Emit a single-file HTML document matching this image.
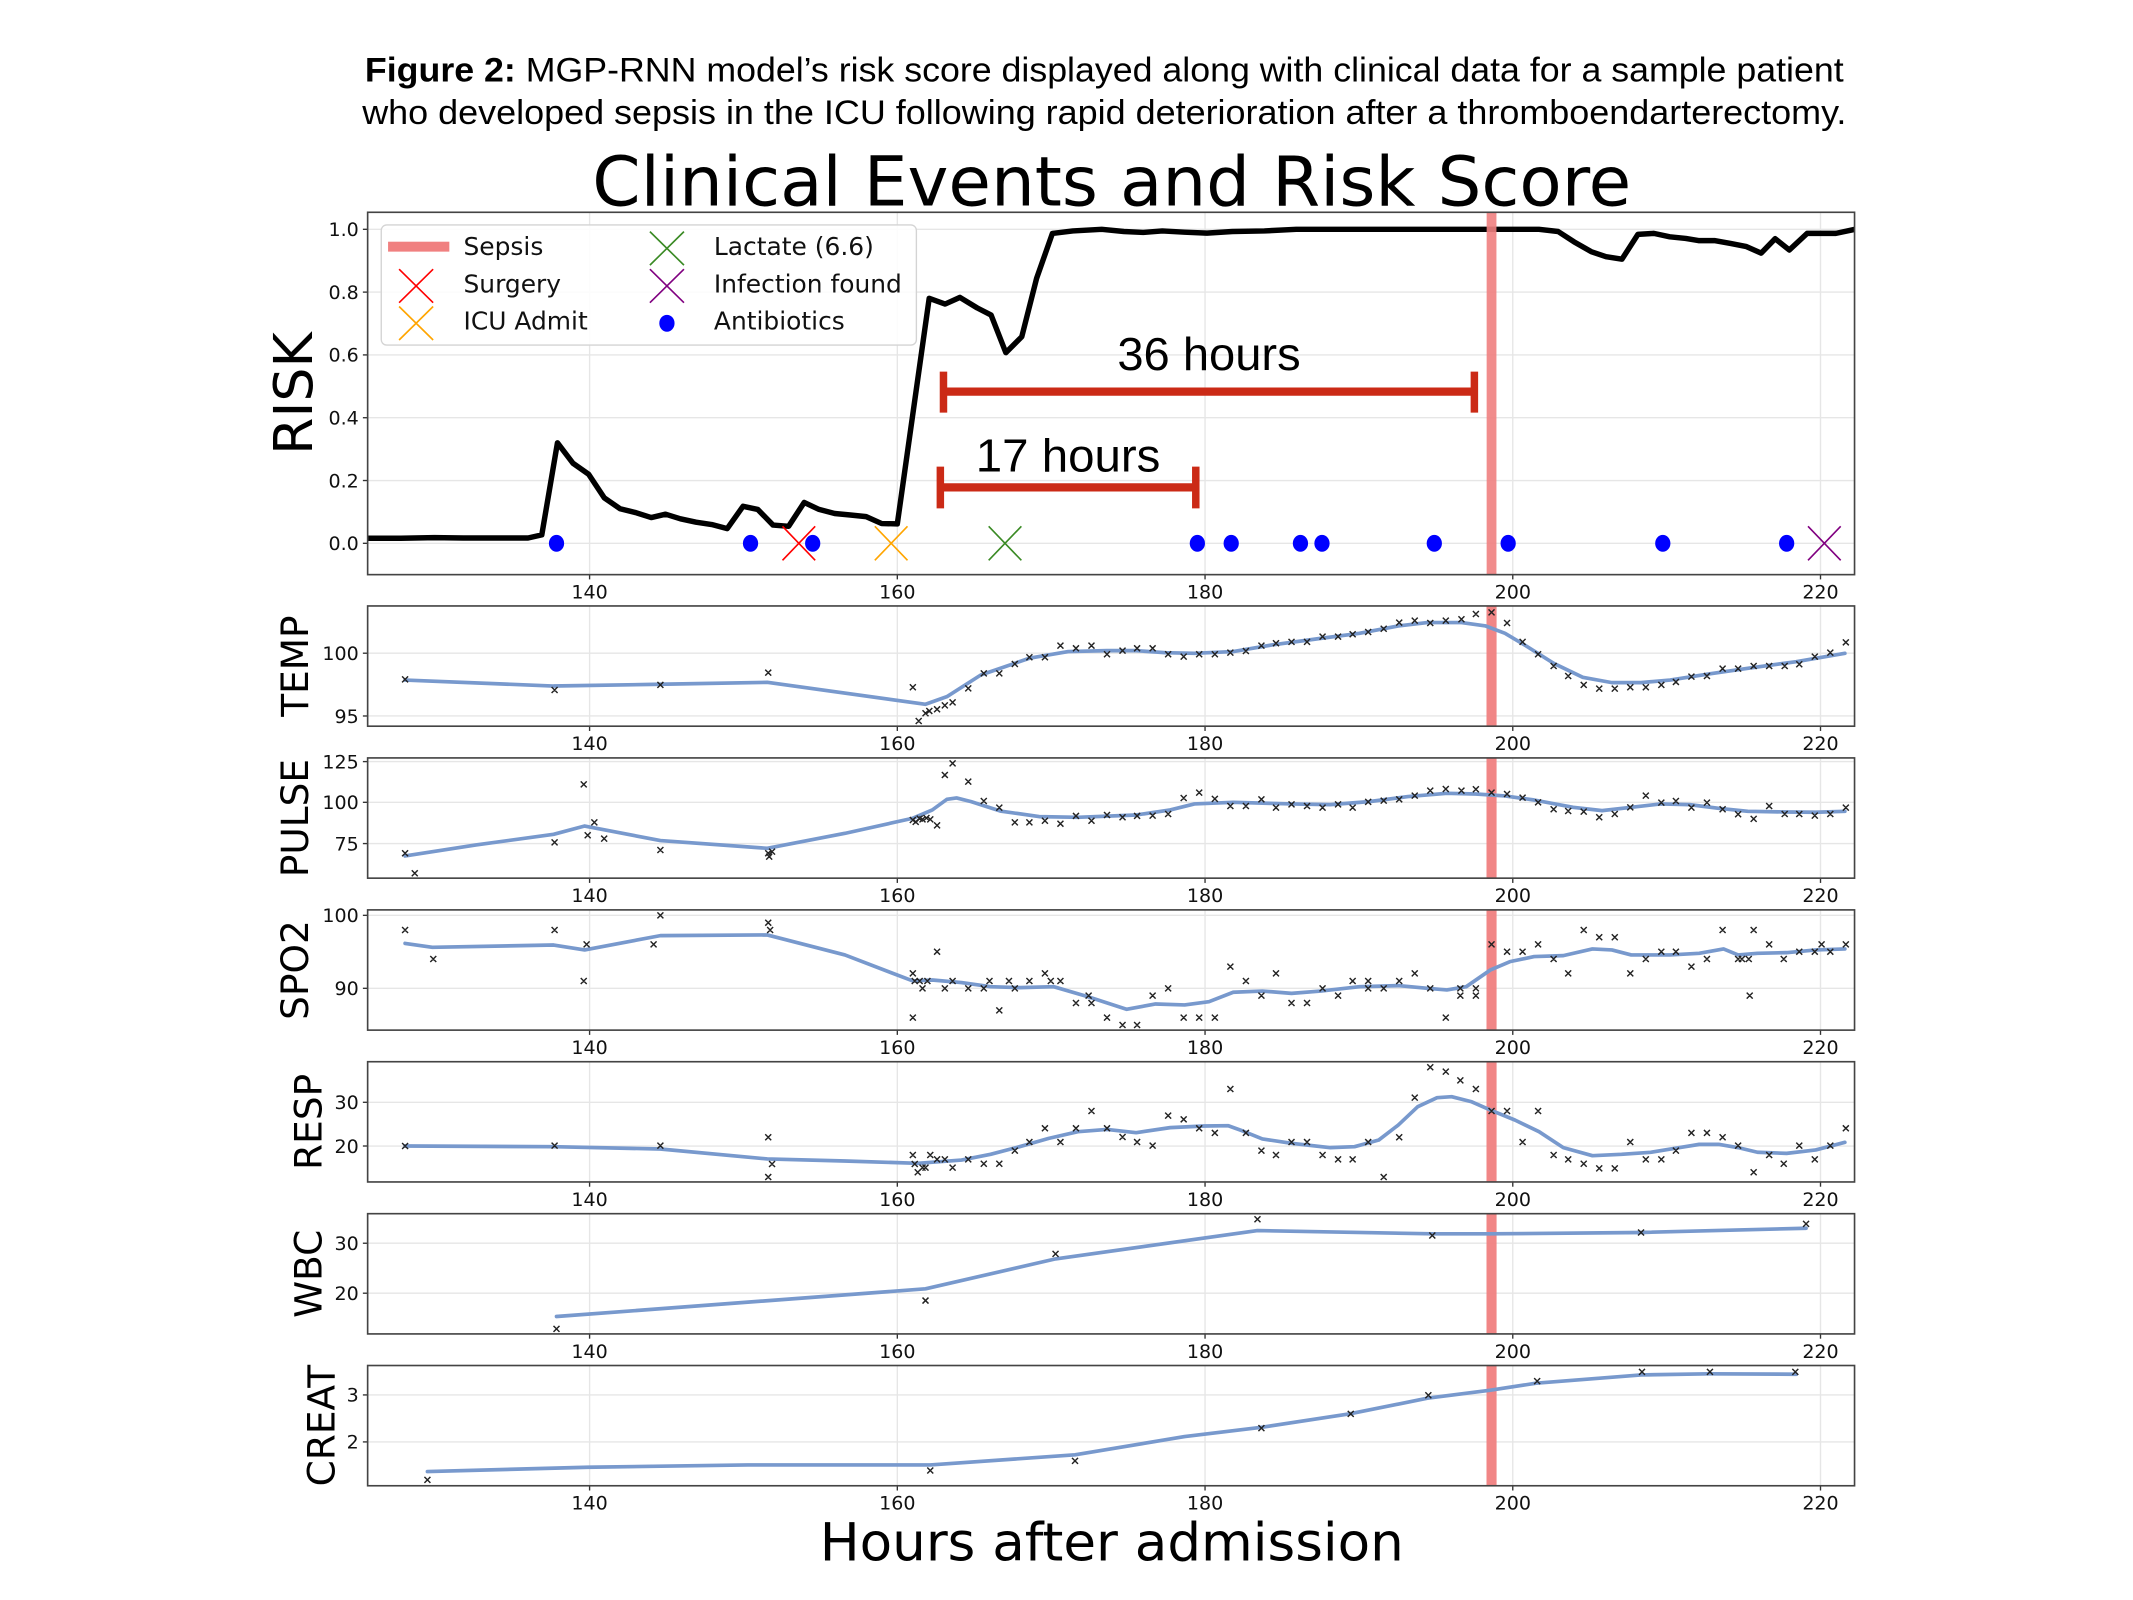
<!DOCTYPE html>
<html><head><meta charset="utf-8">
<style>html,body{margin:0;padding:0;background:#fff;overflow:hidden}svg{display:block}</style>
</head>
<body>
<svg id="s" xmlns="http://www.w3.org/2000/svg" width="2133" height="1600" viewBox="0 0 1566.5 1175" preserveAspectRatio="none">
<rect width="1566.5" height="1175" fill="#fff"/>
<defs id="d"></defs>
<text x="268" y="60" font-family="'Liberation Sans', Arial, sans-serif" font-size="25" fill="#000" textLength="1086" lengthAdjust="spacingAndGlyphs"><tspan font-weight="bold">Figure 2:</tspan> MGP-RNN model’s risk score displayed along with clinical data for a sample patient</text>
<text x="266" y="91" font-family="'Liberation Sans', Arial, sans-serif" font-size="25" fill="#000" textLength="1090" lengthAdjust="spacingAndGlyphs">who developed sepsis in the ICU following rapid deterioration after a thromboendarterectomy.</text>
<text x="435" y="151" font-family="'DejaVu Sans', sans-serif" font-size="50.7" fill="#000" textLength="763" lengthAdjust="spacingAndGlyphs">Clinical Events and Risk Score</text>
<text x="602" y="1146" font-family="'DejaVu Sans', sans-serif" font-size="38.9" fill="#000" textLength="429" lengthAdjust="spacingAndGlyphs">Hours after admission</text>
</svg>
<script>
(function(){
var NS='http://www.w3.org/2000/svg';
var S=document.getElementById('s'), D=document.getElementById('d');
function el(tag,a,t,p){var e=document.createElementNS(NS,tag);for(var k in a)e.setAttribute(k,a[k]);if(t!=null)e.textContent=t;(p||S).appendChild(e);return e;}
var L=270,R=1362,DJ="'DejaVu Sans', sans-serif",LS="'Liberation Sans', Arial, sans-serif";
function X(h){return 433+(h-140)*11.3;}
function RY(v){return 399.0-v*230.6;}
var hours=[140,160,180,200,220];
var SEPX=X(198.62);
var clipN=0;
function clip(top,bot){var id='c'+(clipN++);var c=el('clipPath',{id:id},null,D);el('rect',{x:L,y:top,width:R-L,height:bot-top},null,c);return 'url(#'+id+')';}
function frame(top,bot,yt){
  hours.forEach(function(h){el('line',{x1:X(h),x2:X(h),y1:top,y2:bot,stroke:'#e6e6e6','stroke-width':1});});
  yt.forEach(function(t){
    el('line',{x1:L,x2:R,y1:t[1],y2:t[1],stroke:'#e6e6e6','stroke-width':1});
    el('line',{x1:L-3.5,x2:L,y1:t[1],y2:t[1],stroke:'#333','stroke-width':1});
    el('text',{x:263.5,y:t[1]+5,'text-anchor':'end','font-family':DJ,'font-size':14,fill:'#111'},t[0]);
  });
  hours.forEach(function(h){
    el('line',{x1:X(h),x2:X(h),y1:bot,y2:bot+3.5,stroke:'#333','stroke-width':1});
    el('text',{x:X(h),y:bot+17.5,'text-anchor':'middle','font-family':DJ,'font-size':14,fill:'#111'},String(h));
  });
}
function spine(top,bot){el('rect',{x:L,y:top,width:R-L,height:bot-top,fill:'none',stroke:'#444','stroke-width':1.2});}
function xmark(x,y,hx,hy,col,w,p){el('path',{d:'M'+(x-hx)+' '+(y-hy)+'L'+(x+hx)+' '+(y+hy)+'M'+(x-hx)+' '+(y+hy)+'L'+(x+hx)+' '+(y-hy),stroke:col,'stroke-width':w,fill:'none'},null,p);}

/* ---------- RISK PANEL ---------- */
var RT=155.9,RB=422.0;
frame(RT,RB,[['1.0',RY(1)],['0.8',RY(.8)],['0.6',RY(.6)],['0.4',RY(.4)],['0.2',RY(.2)],['0.0',RY(0)]]);
var risk=[[125.55,.016],[127.73,.016],[129.91,.018],[131.8,.017],[134.13,.017],[136.0,.017],[136.89,.027],[137.91,.32],[138.92,.255],[139.94,.22],[140.96,.145],[141.98,.11],[142.99,.098],[144.01,.082],[144.94,.093],[145.9,.078],[146.92,.067],[147.94,.06],[148.95,.047],[149.97,.118],[150.93,.108],[151.92,.058],[152.94,.054],[153.95,.13],[154.91,.108],[155.93,.095],[156.95,.09],[157.97,.085],[158.98,.063],[160.0,.062],[162.07,.78],[163.11,.762],[164.07,.783],[165.19,.75],[166.1,.727],[167.05,.607],[168.09,.658],[169.05,.844],[170.08,.987],[171.41,.995],[173.28,1.0],[174.73,.993],[175.98,.99],[177.22,.995],[178.67,.991],[180.12,.988],[181.78,.993],[183.86,.995],[185.93,1.0],[201.7,1.0],[202.95,.993],[203.98,.96],[205.1,.929],[206.06,.913],[207.1,.905],[208.13,.984],[209.17,.987],[210.2,.976],[211.24,.971],[212.07,.964],[213.11,.964],[214.15,.955],[215.19,.945],[216.14,.924],[217.05,.97],[217.97,.934],[219.13,.987],[221.0,.987],[222.24,1.0]];
var cr=clip(RT,RB);
var g=el('g',{'clip-path':cr});
el('polyline',{points:risk.map(function(p){return X(p[0]).toFixed(1)+','+RY(p[1]).toFixed(1);}).join(' '),fill:'none',stroke:'#000','stroke-width':4.0,'stroke-linejoin':'round','stroke-linecap':'round'},null,g);
el('rect',{x:SEPX-3.6,y:RT,width:7.2,height:RB-RT,fill:'#f08080','fill-opacity':.9},null,g);
/* bars */
var RC='#cb2a16';
el('line',{x1:692.9,x2:1082.8,y1:287.6,y2:287.6,stroke:RC,'stroke-width':6.1});
el('line',{x1:692.9,x2:692.9,y1:272.9,y2:303.0,stroke:RC,'stroke-width':5.5});
el('line',{x1:1082.8,x2:1082.8,y1:272.9,y2:303.0,stroke:RC,'stroke-width':5.5});
el('line',{x1:690.6,x2:878.2,y1:357.9,y2:357.9,stroke:RC,'stroke-width':6.1});
el('line',{x1:690.6,x2:690.6,y1:342.7,y2:373.3,stroke:RC,'stroke-width':5.5});
el('line',{x1:878.2,x2:878.2,y1:342.7,y2:373.3,stroke:RC,'stroke-width':5.5});
el('text',{x:820.6,y:271.7,'font-family':LS,'font-size':34,fill:'#000',textLength:134.6,lengthAdjust:'spacingAndGlyphs'},'36 hours');
el('text',{x:716.6,y:346.4,'font-family':LS,'font-size':34,fill:'#000',textLength:135.6,lengthAdjust:'spacingAndGlyphs'},'17 hours');
/* events */
[137.85,150.46,154.5,179.5,181.7,186.2,187.6,194.9,199.7,209.75,217.8].forEach(function(h){el('ellipse',{cx:X(h),cy:RY(0),rx:5.6,ry:6.2,fill:'#0000ff'},null,g);});
xmark(X(153.6),RY(0),12,12.5,'#ff0000',1.2,g);
xmark(X(159.6),RY(0),12,12.5,'#ffa500',1.2,g);
xmark(X(167.0),RY(0),12,12.5,'#3a8a24',1.2,g);
xmark(X(220.25),RY(0),12,12.5,'#800080',1.2,g);
/* legend */
el('rect',{x:280,y:165.2,width:393,height:88.2,rx:4,ry:4,fill:'#fff','fill-opacity':.85,stroke:'#d4d4d4','stroke-width':1});
el('rect',{x:285,y:177.5,width:45,height:7.3,fill:'#f08080'});
xmark(305.6,210.0,12.5,12.3,'#ff0000',1.2);
xmark(305.6,237.4,12.5,12.3,'#ffa500',1.2);
xmark(489.8,182.4,12.5,12.3,'#3a8a24',1.2);
xmark(489.8,210.0,12.5,12.3,'#800080',1.2);
el('ellipse',{cx:489.8,cy:237.4,rx:5.6,ry:6.2,fill:'#0000ff'});
[['Sepsis',340.4,187.3],['Surgery',340.4,214.9],['ICU Admit',340.4,241.9],['Lactate (6.6)',524.3,187.3],['Infection found',524.3,214.9],['Antibiotics',524.3,241.9]].forEach(function(t){el('text',{x:t[1],y:t[2],'font-family':DJ,'font-size':18.3,fill:'#111'},t[0]);});
spine(RT,RB);
el('text',{transform:'translate(229,289) rotate(-90)','text-anchor':'middle','font-family':DJ,'font-size':39.5,fill:'#000'},'RISK');

/* ---------- SUB PANELS ---------- */
function px(ox){return 264.0+ox*0.713;}
var zy={4:440.6,5:664.6,6:888.5};
var H=88.3;
var panels=[
{lab:'TEMP',top:445.0,lx:226.2,z:4,t:[['100',479.7],['95',525.8]],
 line:[47,240,200,258,310,253,420,247,583,313,605,290,640,225,690,175,730,155,770,152,800,152,830,158,860,160,900,155,940,135,990,115,1030,100,1070,78,1100,68,1135,68,1160,78,1180,100,1200,135,1230,190,1260,232,1290,248,1320,248,1350,240,1390,222,1430,205,1480,185,1530,160],
 pts:[47,238,201,270,310,255,421,218,570,262,576,363,583,340,587,333,595,328,603,316,611,307,627,265,643,220,659,220,675,192,690,172,706,172,722,137,738,145,754,137,770,163,786,152,801,145,817,145,833,163,849,170,865,163,881,163,897,158,913,153,929,137,944,130,960,126,976,126,992,110,1008,110,1023,103,1039,96,1055,86,1071,68,1087,62,1103,69,1119,62,1135,58,1150,42,1166,37,1182,69,1198,126,1214,163,1230,198,1245,228,1261,255,1277,266,1293,266,1309,262,1325,262,1341,255,1356,246,1372,230,1388,228,1404,206,1420,206,1436,198,1452,198,1468,198,1483,193,1499,170,1515,158,1531,127]},
{lab:'PULSE',top:556.6,lx:226.2,z:4,t:[['125',559.3],['100',589.2],['75',619.5]],
 line:[47,768,120,735,200,703,232,678,310,722,420,745,500,700,570,655,590,630,605,598,615,594,630,605,660,633,700,650,740,652,800,645,835,630,860,612,900,607,960,612,1000,614,1040,605,1080,590,1120,580,1150,582,1180,588,1210,600,1250,622,1280,632,1310,622,1340,612,1370,614,1400,625,1430,634,1470,636,1500,637,1530,634],
 pts:[47,760,57,820,201,727,231,553,235,706,242,667,252,716,310,750,421,760,422,770,425,755,570,660,573,666,577,656,580,658,584,654,588,658,595,676,603,525,611,490,627,545,643,603,659,623,675,667,690,667,706,662,722,671,738,648,754,662,770,645,786,652,801,648,817,647,833,642,849,594,865,578,881,597,897,618,913,618,929,598,944,623,960,613,976,618,992,623,1008,613,1023,623,1039,606,1055,602,1071,598,1087,587,1103,572,1119,567,1135,572,1150,568,1166,578,1182,582,1198,593,1214,607,1230,628,1245,633,1261,635,1277,652,1293,642,1309,622,1325,587,1341,608,1356,603,1372,623,1388,608,1404,628,1420,643,1436,657,1452,618,1468,642,1483,642,1499,647,1515,642,1531,623]},
{lab:'SPO2',top:668.2,lx:226.2,z:5,t:[['100',672.2],['90',725.8]],
 line:[47,115,75,127,200,120,232,135,310,92,420,90,500,150,570,228,590,225,620,233,650,245,680,248,715,245,750,275,790,313,820,297,850,300,875,290,900,262,930,258,960,265,990,258,1030,245,1070,242,1100,250,1120,255,1140,245,1165,195,1185,170,1210,155,1240,152,1270,132,1290,135,1310,150,1350,150,1380,145,1405,132,1420,150,1440,145,1470,143,1500,135,1530,132],
 pts:[47,75,76,162,201,75,231,228,234,118,303,118,310,31,421,53,423,75,570,205,570,338,572,228,577,228,580,250,585,228,595,140,603,250,611,228,627,250,643,250,649,228,659,316,669,228,675,250,690,228,706,205,712,228,722,228,738,294,751,272,754,294,770,338,786,360,801,360,817,272,833,250,849,338,865,338,881,338,897,185,913,228,929,272,944,205,960,294,976,294,992,250,1008,272,1023,228,1039,228,1039,250,1055,250,1071,228,1087,205,1103,250,1119,338,1134,272,1134,250,1150,272,1150,250,1166,118,1182,140,1198,140,1214,118,1230,162,1245,205,1261,75,1277,97,1293,97,1309,205,1325,162,1341,140,1356,140,1372,185,1388,162,1404,75,1420,162,1424,162,1431,162,1432,272,1436,75,1452,118,1467,162,1483,140,1499,140,1506,118,1515,140,1531,118]},
{lab:'RESP',top:779.7,lx:236,z:5,t:[['30',809.5],['20',841.6]],
 line:[47,723,200,725,310,732,420,762,500,768,575,775,620,765,650,748,680,725,710,700,740,680,770,673,800,683,835,668,870,663,895,662,910,678,930,702,960,715,1000,728,1025,725,1050,705,1070,660,1090,605,1110,578,1125,575,1145,590,1165,615,1190,645,1215,680,1240,728,1270,752,1300,748,1330,742,1355,730,1380,718,1400,718,1420,728,1440,742,1470,745,1500,735,1530,712],
 pts:[47,723,201,722,310,722,421,697,425,777,421,816,570,750,572,777,575,802,580,788,583,788,588,750,595,763,603,763,611,788,627,763,643,776,659,776,675,737,690,711,706,670,722,711,738,670,754,618,770,670,786,696,801,711,817,722,833,632,849,643,865,670,881,684,897,552,913,684,929,737,944,750,960,711,976,711,992,750,1008,763,1023,763,1039,711,1055,816,1071,697,1087,578,1103,487,1119,500,1134,526,1150,552,1166,618,1182,618,1198,711,1214,618,1230,750,1245,763,1261,776,1277,790,1293,790,1309,711,1325,763,1341,763,1356,737,1372,684,1388,684,1404,697,1420,722,1436,802,1452,750,1467,776,1483,722,1499,763,1515,722,1531,670]},
{lab:'WBC',top:891.3,lx:236,z:6,t:[['30',913.0],['20',949.7]],
 line:[203,320,583,237,717,147,925,62,1105,72,1165,72,1320,68,1490,55],
 pts:[203,357,583,272,717,132,925,28,1105,77,1320,68,1490,42]},
{lab:'CREAT',top:1002.8,lx:245.8,z:6,t:[['3',1024.4],['2',1058.9]],
 line:[70,785,235,772,400,765,588,765,737,735,850,680,930,652,1020,612,1100,565,1165,541,1212,520,1320,495,1390,492,1480,493],
 pts:[70,810,588,782,737,753,929,655,1021,612,1101,556,1213,514,1321,486,1391,486,1479,486]}
];
panels.forEach(function(P){
  var top=P.top,bot=P.top+H,base=zy[P.z];
  frame(top,bot,P.t);
  var gg=el('g',{'clip-path':clip(top,bot)});
  el('rect',{x:SEPX-3.7,y:top,width:7.4,height:H,fill:'#f08080','fill-opacity':.95},null,gg);
  var pts=[];for(var i=0;i<P.line.length;i+=2)pts.push(px(P.line[i]).toFixed(1)+','+(base+P.line[i+1]*0.2448).toFixed(1));
  el('polyline',{points:pts.join(' '),fill:'none',stroke:'#7899cd','stroke-width':2.7,'stroke-linejoin':'round','stroke-linecap':'round'},null,gg);
  var d='';
  for(var j=0;j<P.pts.length;j+=2){var x=px(P.pts[j]),y=base+P.pts[j+1]*0.2448;d+='M'+(x-2.2).toFixed(1)+' '+(y-2.2).toFixed(1)+'L'+(x+2.2).toFixed(1)+' '+(y+2.2).toFixed(1)+'M'+(x-2.2).toFixed(1)+' '+(y+2.2).toFixed(1)+'L'+(x+2.2).toFixed(1)+' '+(y-2.2).toFixed(1);}
  el('path',{d:d,stroke:'#222','stroke-width':1.05,fill:'none'},null,gg);
  spine(top,bot);
  el('text',{transform:'translate('+P.lx+','+(top+H/2)+') rotate(-90)','text-anchor':'middle','font-family':DJ,'font-size':27.5,fill:'#000'},P.lab);
});
})();
</script>
</body></html>
